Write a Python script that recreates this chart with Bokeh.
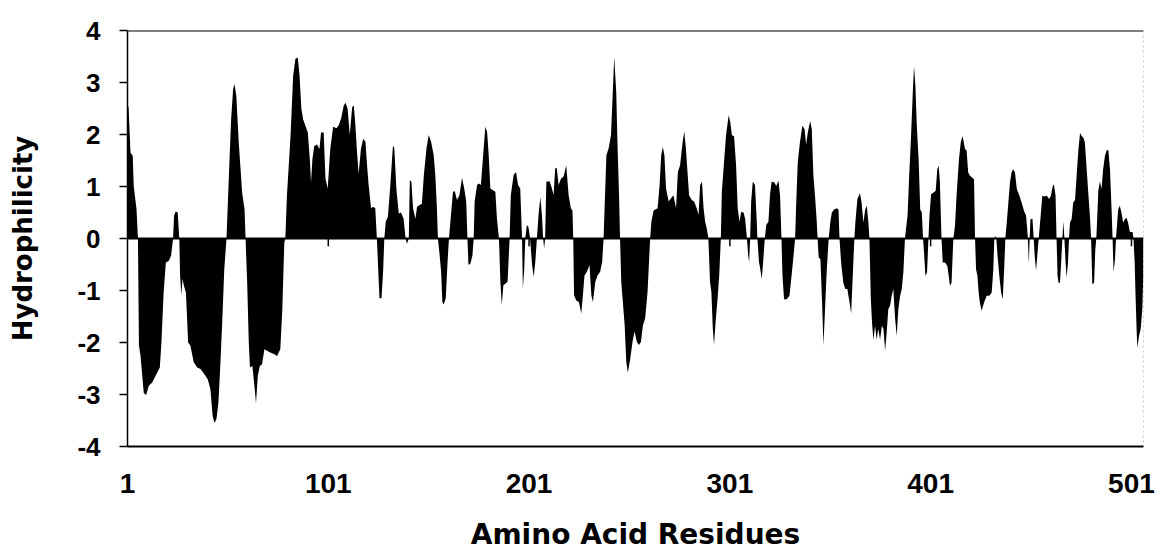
from bokeh.plotting import figure
from bokeh.models import Range1d, FixedTicker, Span
from bokeh.embed import file_html
from bokeh.resources import INLINE

residue = [
    1.0, 1.5, 2.5, 3.6, 4.1, 5.5, 6.2, 6.7, 7.5, 9.1, 10.3, 11.6, 13.3, 15.0, 17.1, 17.9, 19.0, 20.1, 21.6, 22.7,
    23.7, 24.2, 25.0, 26.0, 26.5, 26.8, 27.2, 27.8, 28.4, 29.1, 30.1, 31.2, 32.3, 34.0, 35.7, 37.4, 39.3, 41.0,
    42.3, 43.4, 44.3, 45.3, 46.3, 47.3, 48.3, 49.2, 50.3, 51.5, 52.6, 53.6, 54.3, 55.2, 56.4, 58.1, 59.3, 59.8,
    60.6, 61.4, 62.0, 63.2, 64.2, 65.0, 65.9, 66.9, 68.0, 69.2, 70.5, 72.1, 73.9, 75.5, 77.1, 78.1, 79.1, 79.6,
    80.4, 82.2, 83.5, 84.6, 85.8, 86.7, 87.6, 88.5, 89.6, 90.8, 91.8, 92.4, 93.1, 94.0, 95.4, 96.6, 97.4,
    98.7, 99.6, 100.7, 102.0, 103.4, 105.1, 106.2, 107.4, 108.7, 109.6, 110.6, 111.7, 112.9, 113.7, 114.5, 115.3,
    116.1, 117.3, 118.4, 119.5, 120.3, 121.1, 122.3, 123.3, 124.4, 125.2, 125.7, 126.5, 127.5, 128.3, 128.9,
    129.6, 130.7, 131.9, 133.2, 133.9, 134.9, 136.1, 137.2, 138.5, 139.5, 140.2, 141.1, 141.6, 142.4, 143.2,
    144.4, 145.2, 146.3, 147.6, 148.6, 149.9, 151.0, 152.2, 153.5, 154.3, 155.1, 155.6, 156.3, 157.2, 157.8,
    158.5, 159.5, 160.4, 161.1, 161.8, 163.1, 164.0, 165.1, 166.3, 167.6, 168.7, 169.7, 170.3, 170.8, 171.8,
    172.8, 173.4, 173.9, 175.1, 176.0, 177.0, 178.0, 179.2, 180.1, 180.9, 181.7, 183.0, 184.2, 185.0, 186.0,
    186.7, 187.4, 188.2, 189.2, 190.3, 191.3, 191.9, 193.3, 194.5, 195.5, 196.6, 197.5, 197.9, 198.6, 199.1,
    199.9, 200.7, 201.5, 202.5, 203.3, 204.1, 204.9, 205.7, 206.6, 207.4, 208.0, 208.5, 209.0,
    209.6, 211.2, 212.4, 213.2, 214.0, 214.8, 215.7, 216.9, 218.2, 219.5, 220.7, 221.8, 222.6, 223.0, 223.4,
    224.5, 225.8, 227.0, 227.8, 228.6, 229.8, 231.1, 232.0, 232.8, 234.0, 235.1, 236.4, 237.4, 238.1, 238.6,
    239.5, 240.6, 241.8, 242.7, 243.4, 244.4, 245.0, 245.8, 246.3, 246.9, 247.7, 248.6, 249.4, 250.2, 251.4,
    252.5, 253.5, 254.7, 255.7, 256.7, 257.7, 258.8, 260.0, 261.3, 261.9, 263.0, 265.0, 266.0, 266.8, 267.6,
    268.4, 269.2, 270.5, 271.6, 272.9, 274.2, 275.1, 276.2, 277.5, 278.3, 279.1, 279.9, 280.7, 282.0, 283.2,
    284.5, 285.4, 286.2, 287.1, 287.9, 288.7, 289.5, 290.3, 291.1, 291.8, 292.5, 293.1, 293.9, 294.9, 295.7,
    296.5, 297.0, 298.1, 299.1, 300.4, 301.2, 302.0, 303.1, 304.1, 304.9, 305.8, 306.6, 307.8, 308.6, 309.5,
    310.1, 310.6, 311.1, 311.6, 312.4, 313.5, 314.4, 314.7, 315.5, 316.1, 316.9, 317.7, 318.4, 319.1, 320.2, 321.0,
    321.8, 323.1, 324.1, 325.2, 326.0, 326.7, 327.2, 328.0, 329.3, 330.7, 331.9, 332.7, 333.5, 334.0, 334.8,
    335.9, 337.1, 338.2, 339.0, 339.8, 341.0, 341.8, 342.6, 343.4, 344.2, 344.7, 345.2, 346.1, 346.9, 347.6,
    348.4, 349.2, 350.2, 351.0, 351.8, 352.9, 354.3, 355.1, 355.6, 356.4, 357.5, 358.5, 359.5, 360.6, 361.4,
    362.2, 363.0, 363.5, 364.5, 365.8, 366.6, 367.5, 368.4, 369.2, 370.0, 370.5, 371.2, 371.8, 372.5, 373.3,
    374.1, 374.9, 375.8, 376.7, 377.5, 378.3, 379.1, 379.9, 380.8, 381.6, 382.4, 383.3, 384.1, 384.9, 385.8,
    386.6, 387.4, 388.2, 388.7, 389.5, 390.3, 391.1, 392.1, 392.7, 393.4, 394.1, 395.0, 395.8, 396.6, 397.2,
    397.8, 398.4, 399.2, 399.9, 400.4, 401.2, 402.3, 403.5, 404.3, 405.0, 405.6, 406.4, 407.0, 408.2, 409.3,
    410.0, 410.6, 411.4, 412.3, 413.1, 413.9, 415.1, 416.0, 416.9, 418.1, 418.9, 419.7, 420.5, 421.7, 422.6,
    423.1, 423.6, 424.3, 424.9, 425.5, 426.4, 427.6,
    428.9, 430.2, 431.4, 432.2, 432.7, 433.2, 433.7, 434.3, 435.2, 436.1, 436.9, 437.6, 438.2, 438.9, 439.7,
    440.5, 441.3, 442.1, 443.0, 443.9, 445.2, 446.3, 447.5, 448.5, 449.1, 449.4, 449.9, 450.3, 450.7, 451.7,
    452.3, 452.8, 453.5, 454.1, 454.8, 455.8, 456.6, 457.6, 458.8, 460.0, 460.9, 461.8, 462.4, 463.2, 463.7,
    464.2, 464.7, 465.4, 466.0, 466.6, 467.1, 467.6, 468.2, 468.7, 469.4, 469.9, 470.4, 471.2, 472.0, 472.9,
    473.7, 474.6, 475.4, 476.2, 477.0, 477.8, 478.7, 479.5, 480.3, 480.9, 481.5, 482.4, 483.0, 483.5, 484.0,
    484.5, 485.3, 486.1, 486.9, 487.8, 488.6, 489.5, 490.3, 491.1, 491.6, 492.1, 492.8, 493.3, 493.9, 494.4,
    495.2, 496.0, 496.9, 497.7, 498.5, 499.3, 500.2, 501.6, 502.0, 502.6, 503.0, 503.5, 503.9, 504.8, 505.6,
    506.4, 506.9,
]

hydrophilicity = [
    2.5, 2.55, 1.65, 1.59, 1.01, 0.56, 0, -2.06, -2.26, -2.97, -3.01, -2.83, -2.77, -2.64, -2.48, -2.0, -1.04, -0.46, -0.43, -0.33,
    0, 0.44, 0.52, 0.5, 0.18, 0, -0.72, -1.09, -0.78, -0.91, -1.04, -2.0, -2.06, -2.38, -2.48, -2.51, -2.61, -2.71,
    -2.9, -3.41, -3.55, -3.47, -3.15, -2.38, -1.49, -0.59, 0, 1.21, 2.29, 2.87, 2.97, 2.74, 1.85, 0.88, 0.56, 0,
    -0.85, -2.0, -2.48, -2.45, -2.83, -3.17, -2.64, -2.45, -2.42, -2.13, -2.16, -2.19, -2.22, -2.26, -2.13, -1.36, -0.08, 0,
    0.82, 1.97, 3.13, 3.45, 3.48, 3.13, 2.49, 2.29, 2.17, 2.04, 1.53, 1.08, 1.53, 1.78, 1.81, 1.72, 2.04,
    2.04, 1.15, 0.96, 1.73, 2.15, 2.12, 2.18, 2.31, 2.56, 2.61, 2.5, 1.99, 2.53, 2.56, 2.18, 1.67,
    1.25, 1.73, 1.92, 1.86, 1.41, 1.03, 0.58, 0.61, 0.58, 0, -0.45, -1.15, -1.15, -0.64, 0,
    0.32, 0.42, 1.03, 1.79, 1.73, 0.96, 0.48, 0.5, 0.38, 0, -0.1, 0, 1.12, 1.09, 0.58,
    0.38, 0.61, 0.64, 0.67, 1.22, 1.73, 1.99, 1.86, 1.6, 1.22, 0.58, 0, -0.26, -0.64, -1.22,
    -1.27, -1.15, -0.45, 0, 0.32, 0.9, 0.91, 0.74, 0.83, 1.17, 0.96, 0.71, 0, -0.51, -0.48,
    -0.32, 0, 0.71, 1.03, 1.06, 1.03, 1.54, 2.15, 2.05, 1.6, 0.96, 0.93, 0.9, 0.38, 0,
    -0.83, -1.28, -0.9, -0.87, -0.83, 0, 0.83, 1.22, 1.28, 1.03, 0.96, 0, -0.96, -0.58, 0,
    0.26, 0.22, 0, -0.51, -0.74, -0.45, 0, 0.45, 0.8, 0.45, 0, -0.19, 0,
    1.09, 1.1, 0.96, 0.83, 1.35, 1.35, 1.03, 1.15, 1.19, 1.41, 0.83, 0.58, 0.54, 0, -1.09,
    -1.19, -1.22, -1.44, -1.09, -0.71, -0.64, -0.51, -1.09, -1.22, -0.83, -0.71, -0.64, -0.45, 0, 0.58,
    1.6, 1.73, 1.99, 2.82, 3.49, 2.82, 1.86, 0.83, 0, -0.83, -1.22, -1.67, -2.37, -2.58, -2.31,
    -1.99, -1.79, -1.99, -2.05, -1.99, -1.67, -1.54, -1.03, 0, 0.32, 0.54, 0.58, 1.03, 1.6, 1.76,
    1.6, 0.96, 0.71, 0.77, 0.83, 0.58, 1.28, 1.41, 1.86, 2.06, 1.73, 1.28, 0.83, 0.74, 0.71,
    0.58, 0.45, 1.03, 1.09, 0.58, 0.32, 0.19, 0, -0.83, -1.03, -1.73, -2.05, -1.6, -1.15, -0.71,
    0, 0.9, 1.47, 1.99, 2.37, 2.24, 1.99, 1.96, 1.41, 0.58, 0.32, 0.51, 0.5, 0.38, 0,
    -0.32, -0.45, 0, 0.71, 1.09, 1.03, 0.32, 0, -0.45, -0.58, -0.78, -0.38, 0, 0.26, 0.32, 0.85,
    1.09, 1.08, 1.01, 1.11, 0.82, 0, -0.72, -1.17, -1.17, -1.1, -0.65, -0.33, 0, 0.63, 1.46,
    1.85, 2.17, 2.1, 1.81, 2.04, 2.26, 2.1, 1.21, 0.82, 0.37, 0, -0.36, -0.4, -1.2, -2.06,
    -1.36, -0.65, 0, 0.31, 0.5, 0.56, 0.58, 0.56, 0, -0.46, -0.85, -0.97, -0.97, -1.23, -1.44,
    -0.72, 0, 0.31, 0.76, 0.87, 0.69, 0.31, 0.56, 0.63, 0.31, 0, -1.17, -1.62, -1.95, -1.68,
    -1.94, -1.74, -1.94, -1.68, -1.74, -2.16, -1.81, -1.36, -1.29, -1.1, -0.97, -1.55, -1.87, -1.36, -1.1,
    -0.97, -0.65, 0, 0.18, 0.44, 1.21, 1.85, 2.81, 3.31, 2.94, 2.17, 1.53, 0.56, 0.5, 0,
    -0.33, -0.72, -0.65, 0, 0.44, 0.85, 0.88, 0.92, 1.33, 1.4, 1.08, 0, -0.46, -0.46, -0.53,
    -0.72, -0.91, -0.85, 0, 0.24, 0.82, 1.53, 1.85, 1.97, 1.72, 1.69, 1.27, 1.21, 1.17, 1.14,
    0, -0.59, -0.72, -1.04, -1.23, -1.39, -1.23,
    -1.1, -1.1, -1.04, -0.59, 0, 0.05, 0, -0.33, -0.72, -1.04, -1.17, -0.59, 0, 0.31, 0.69,
    1.08, 1.27, 1.33, 1.27, 0.95, 0.82, 0.69, 0.53, 0.44, 0.18, 0, -0.49, 0, 0.37, 0.38,
    0, -0.33, -0.62, -0.33, 0, 0.44, 0.82, 0.81, 0.82, 0.76, 0.82, 1.01, 1.04, 0.82, 0,
    -0.72, -0.85, -0.85, -0.46, 0, 0.33, 0, -0.46, -0.75, -0.46, 0, 0.31, 0.37, 0.69, 0.74,
    1.21, 1.72, 2.03, 1.97, 1.94, 1.85, 1.33, 0.88, 0.44, 0, -0.88, -0.85, -0.21, 0, 0.44,
    0.92, 1.1, 0.95, 1.33, 1.59, 1.69, 1.7, 1.33, 0.56, 0, -0.65, -0.4, 0, 0.31, 0.56,
    0.63, 0.5, 0.31, 0.37, 0.4, 0.31, 0.13, 0.12, 0, -0.46, -1.04, -1.68, -2.1, -1.87, -1.74,
    -1.36, -0.72,
]

x_ticks = [1, 101, 201, 301, 401, 501]
y_ticks = [-4, -3, -2, -1, 0, 1, 2, 3, 4]
x_title = "Amino Acid Residues"
y_title = "Hydrophilicity"
x_end = 507

p = figure(width=1170, height=553, output_backend="svg", toolbar_location=None,
           x_range=Range1d(x_ticks[0], x_end), y_range=Range1d(y_ticks[0], y_ticks[-1]),
           min_border_left=127, min_border_right=27, min_border_top=30, min_border_bottom=106)
p.outline_line_color = None
p.xgrid.visible = False
p.ygrid.visible = False
p.background_fill_color = "white"
p.border_fill_color = "white"

p.varea(x=residue, y1=0, y2=hydrophilicity, fill_color="black", fill_alpha=1.0)

# zero (category) axis line with its tick marks
p.add_layout(Span(location=0, dimension="width", line_color="black", line_width=2))
inner = x_ticks[1:]
p.segment(x0=inner, y0=[0] * len(inner), x1=inner, y1=[-0.15] * len(inner),
          line_color="black", line_width=1.5)

# plot area border: top solid, right dotted
p.add_layout(Span(location=y_ticks[-1], dimension="width", line_color="black", line_width=2))
p.add_layout(Span(location=x_end, dimension="height", line_color="#9a9a9a",
                  line_width=1, line_dash="2 3"))

xa = p.xaxis[0]
xa.ticker = FixedTicker(ticks=x_ticks)
xa.major_label_overrides = {t: str(t) for t in x_ticks}
xa.axis_line_color = "black"
xa.axis_line_width = 2
xa.major_tick_out = 0
xa.major_tick_in = 0
xa.minor_tick_out = 0
xa.minor_tick_in = 0
xa.major_label_text_font = "Liberation Sans"
xa.major_label_text_font_style = "bold"
xa.major_label_text_font_size = "28px"
xa.major_label_text_color = "black"
xa.major_label_standoff = 27
xa.axis_label = x_title
xa.axis_label_text_font = "DejaVu Sans"
xa.axis_label_text_font_style = "bold"
xa.axis_label_text_font_size = "28px"
xa.axis_label_text_color = "black"
xa.axis_label_standoff = 22

ya = p.yaxis[0]
ya.ticker = FixedTicker(ticks=y_ticks)
ya.major_label_overrides = {t: str(t) for t in y_ticks}
ya.axis_line_color = "black"
ya.axis_line_width = 1.5
ya.major_tick_out = 8
ya.major_tick_in = 0
ya.major_tick_line_width = 1.5
ya.major_tick_line_color = "black"
ya.minor_tick_out = 0
ya.minor_tick_in = 0
ya.major_label_text_font = "Liberation Sans"
ya.major_label_text_font_style = "bold"
ya.major_label_text_font_size = "26px"
ya.major_label_text_color = "black"
ya.major_label_standoff = 19
ya.axis_label = y_title
ya.axis_label_text_font = "DejaVu Sans"
ya.axis_label_text_font_style = "bold"
ya.axis_label_text_font_size = "26px"
ya.axis_label_text_color = "black"
ya.axis_label_standoff = 36

open("out.html", "w").write(file_html(p, INLINE))
